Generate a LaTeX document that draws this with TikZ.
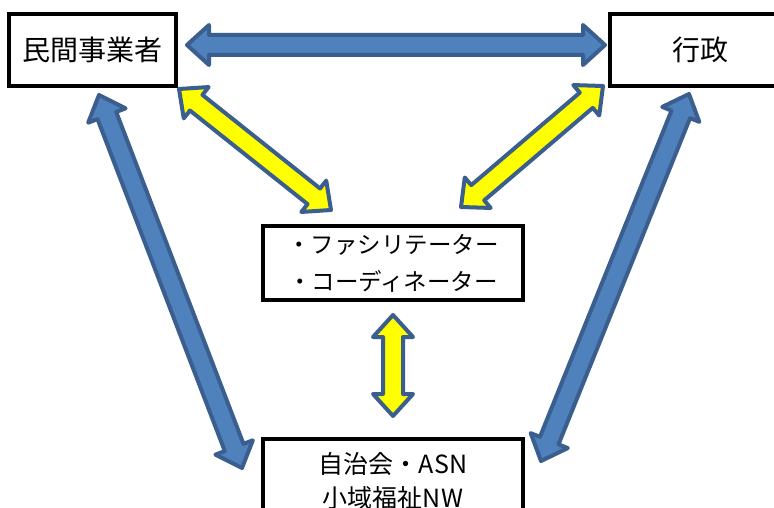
\documentclass[tikz,border=0pt]{standalone}
\usepackage{fontspec}
\newfontfamily\jp{Noto Sans CJK JP}
\usetikzlibrary{calc}
\definecolor{arrblue}{HTML}{4F81BD}
\definecolor{arrline}{HTML}{3A5F8E}
\definecolor{arryel}{HTML}{FFFF00}
\newcommand\HL{22pt}
\newcommand\HW{20pt}
\newcommand\SW{10pt}
\newcommand\blockarr[3][]{%
  \path[#1] let \p1=(#2), \p2=(#3), \n1={atan2(\y2-\y1,\x2-\x1)} in
    (\p1)
    -- ($(\p1)+(\n1:\HL)+(\n1+90:\HW)$)
    -- ($(\p1)+(\n1:\HL)+(\n1+90:\SW)$)
    -- ($(\p2)+(\n1+180:\HL)+(\n1+90:\SW)$)
    -- ($(\p2)+(\n1+180:\HL)+(\n1+90:\HW)$)
    -- (\p2)
    -- ($(\p2)+(\n1+180:\HL)+(\n1-90:\HW)$)
    -- ($(\p2)+(\n1+180:\HL)+(\n1-90:\SW)$)
    -- ($(\p1)+(\n1:\HL)+(\n1-90:\SW)$)
    -- ($(\p1)+(\n1:\HL)+(\n1-90:\HW)$)
    -- cycle;}
\tikzset{
  box/.style={draw=black, line width=3.2pt, fill=white, inner sep=0pt, align=center, font=\jp},
  bluearr/.style={fill=arrblue, draw=arrline, line width=4pt, line join=round},
  yelarr/.style={fill=arryel, draw=arrline, line width=4pt, line join=round},
}
\begin{document}
\begin{tikzpicture}[x=1pt,y=-1pt]
\useasboundingbox (0,0) rectangle (774,508);
\clip (0,0) rectangle (774,508);
\fill[white] (0,0) rectangle (774,508);
% boxes
\node[box, minimum width=167pt, minimum height=72pt, font=\jp\fontsize{28}{30}\selectfont] (min) at (92.5,50) {民間事業者};
\node[box, minimum width=180pt, minimum height=72pt, font=\jp\fontsize{28}{30}\selectfont] (gyo) at (700,50) {行政};
\node[box, minimum width=260pt, minimum height=74pt, font=\jp\fontsize{23.5}{37}\selectfont] (fac) at (393,263) {・ファシリテーター\\・コーディネーター};
\node[box, minimum width=260pt, minimum height=84pt, font=\jp\fontsize{25}{34}\selectfont] (jic) at (393,481) {自治会・ASN\\小域福祉NW};
% arrow end points
\coordinate (h1) at (187,45);
\coordinate (h2) at (605,45);
\coordinate (l1) at (99,95);
\coordinate (l2) at (242,468);
\coordinate (r1) at (689,94);
\coordinate (r2) at (541,461);
\coordinate (yl1) at (179,89);
\coordinate (yl2) at (331,210);
\coordinate (yr1) at (603,86);
\coordinate (yr2) at (461,207);
\coordinate (v1) at (393,315);
\coordinate (v2) at (393,416);
% arrows
\blockarr[bluearr]{h1}{h2}
\blockarr[bluearr]{l1}{l2}
\blockarr[bluearr]{r1}{r2}
\blockarr[yelarr]{yl1}{yl2}
\blockarr[yelarr]{yr1}{yr2}
\blockarr[yelarr]{v1}{v2}
\end{tikzpicture}
\end{document}
